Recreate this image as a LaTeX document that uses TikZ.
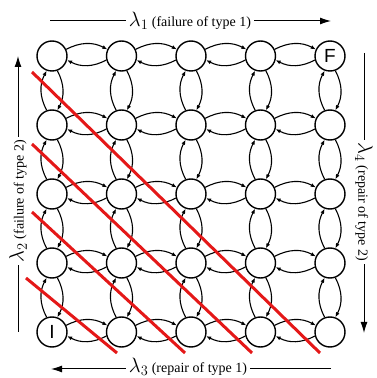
\documentclass[tikz,border=0pt]{standalone}
\usepackage{fontspec}
\setmainfont{Liberation Serif}
\newfontfamily\sansf{Liberation Sans}
\usetikzlibrary{arrows.meta}
\definecolor{cutred}{RGB}{228,24,24}
\begin{document}
\begin{tikzpicture}[x=1pt,y=1pt,
  state/.style={circle, draw, line width=1.4pt, minimum size=30pt, inner sep=0pt,
    font=\sansf\fontsize{19}{19}\selectfont},
  trans/.style={-{Latex[length=5pt,width=4pt]}, line width=1.1pt, bend left=28},
  axis/.style={line width=1pt},
  axarrow/.style={axis, -{Latex[length=11pt,width=7pt]}},
  lab/.style={font=\fontsize{14}{14}\selectfont, inner sep=3pt},
  cut/.style={draw=cutred, line width=3pt}
]
\useasboundingbox (0,0) rectangle (376,378);

% states
\foreach \i in {0,...,4}{
  \foreach \j in {0,...,4}{
    \node[state] (n\i\j) at ({52+69.5*\i},{322-69*\j}) {\ifnum\i\j=40 F\else\ifnum\i\j=04 I\fi\fi};
  }
}

% horizontal transitions
\foreach \i [evaluate=\i as \ni using int(\i+1)] in {0,...,3}{
  \foreach \j in {0,...,4}{
    \draw[trans] (n\i\j.25) to (n\ni\j.155);
    \draw[trans] (n\ni\j.195) to (n\i\j.345);
  }
}

% vertical transitions
\foreach \j [evaluate=\j as \nj using int(\j+1)] in {0,...,3}{
  \foreach \i in {0,...,4}{
    \draw[trans] (n\i\nj.110) to (n\i\j.250);
    \draw[trans] (n\i\j.290) to (n\i\nj.70);
  }
}

% axis labels
\node[lab] (t1) at (190,357) {{\fontsize{22}{22}\selectfont$\lambda_{1}$} (failure of type 1)};
\coordinate (t1a) at (50,357);
\coordinate (t1b) at (331,357);
\draw[axis] (t1a) -- (t1.west);
\draw[axarrow] (t1.east) -- (t1b);

\node[lab] (t3) at (188,11) {{\fontsize{22}{22}\selectfont$\lambda_{3}$} (repair of type 1)};
\coordinate (t3a) at (331,9);
\coordinate (t3b) at (51,9);
\draw[axis] (t3a) -- (t3.east |- t3a);
\draw[axarrow] (t3.west |- t3b) -- (t3b);

\node[lab, rotate=90] (t2) at (18,177) {{\fontsize{22}{22}\selectfont$\lambda_{2}$} (failure of type 2)};
\coordinate (t2a) at (18,46);
\coordinate (t2b) at (18,322);
\draw[axis] (t2a) -- (t2.west);
\draw[axarrow] (t2.east) -- (t2b);

\node[lab, rotate=-90] (t4) at (364,176) {{\fontsize{22}{22}\selectfont$\lambda_{4}$} (repair of type 2)};
\coordinate (t4a) at (364,325);
\coordinate (t4b) at (364,45);
\draw[axis] (t4a) -- (t4.west);
\draw[axarrow] (t4.east) -- (t4b);

% red cut lines
\coordinate (r1a) at (32,306); \coordinate (r1b) at (320,25);
\coordinate (r2a) at (32,234); \coordinate (r2b) at (252,25);
\coordinate (r3a) at (32,166); \coordinate (r3b) at (185,25);
\coordinate (r4a) at (26,100); \coordinate (r4b) at (117,25);
\draw[cut] (r1a) -- (r1b);
\draw[cut] (r2a) -- (r2b);
\draw[cut] (r3a) -- (r3b);
\draw[cut] (r4a) -- (r4b);
\end{tikzpicture}
\end{document}
